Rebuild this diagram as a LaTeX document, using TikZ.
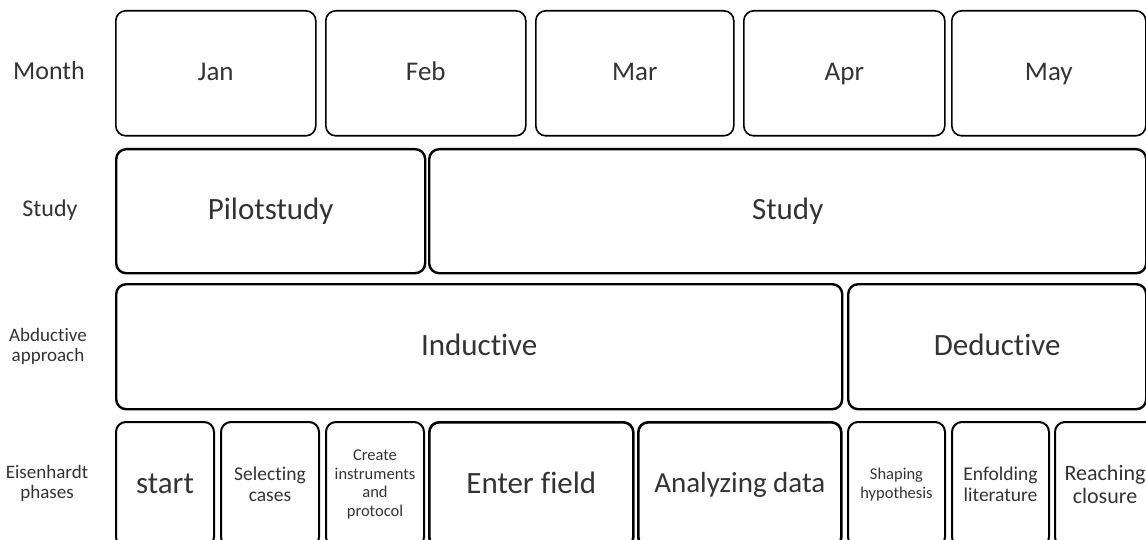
\documentclass[tikz,border=0pt]{standalone}
\usepackage{fontspec}
\setmainfont{Carlito}[Ligatures=NoCommon]
\newcommand\myfs[2]{\fontsize{#1}{#2}\selectfont}
\begin{document}
\begin{tikzpicture}[x=1pt,y=-1pt,
  box/.style={draw=black, line width=2pt, rounded corners=10pt, anchor=north west,
    inner sep=0pt, align=center, text=black!80},
  oneline/.style 2 args={text height=#1, text depth=#2},
  monthbox/.style={box, oneline={17.8pt}{2.7pt}, line width=1.6pt, minimum height=125pt, font=\myfs{27}{30}},
  studybox/.style={box, oneline={20.5pt}{3.1pt}, line width=2.4pt, minimum height=124pt, font=\myfs{31}{34}},
  approachbox/.style={box, oneline={20.5pt}{3.1pt}, line width=2.4pt, minimum height=125pt, font=\myfs{31}{34}},
  phasebox/.style={box, line width=2pt, minimum height=125pt},
  rowlabel/.style={align=center, inner sep=0pt, text=black!80},
]
\useasboundingbox (0,0) rectangle (1146,540);
\clip (0,0) rectangle (1146,540);

% row labels
\node[rowlabel, oneline={17.2pt}{2.6pt}, font=\myfs{26}{28}] (lmonth) at (49,72) {Month};
\node[rowlabel, oneline={15.8pt}{2.4pt}, font=\myfs{24}{26}] (lstudy) at (50,210) {Study};
\node[rowlabel, font=\myfs{19}{20}] (lapproach) at (48,346) {Abductive\\approach};
\node[rowlabel, font=\myfs{19}{20}] (lphase) at (47,483) {Eisenhardt\\phases};

% months
\node[monthbox, minimum width=200pt] (jan) at (115,10) {Jan};
\node[monthbox, minimum width=200pt] (feb) at (325,10) {Feb};
\node[monthbox, minimum width=198pt] (mar) at (535,10) {Mar};
\node[monthbox, minimum width=201pt] (apr) at (743,10) {Apr};
\node[monthbox, minimum width=194pt] (may) at (951,10) {May};

% study
\node[studybox, minimum width=309pt] (pilot) at (115,148) {Pilotstudy};
\node[studybox, minimum width=717pt] (study) at (428,148) {Study};

% approach
\node[approachbox, minimum width=726pt] (inductive) at (115,283) {Inductive};
\node[approachbox, minimum width=298pt] (deductive) at (847,283) {Deductive};

% phases
\node[phasebox, oneline={20.5pt}{3.1pt}, minimum width=98pt, font=\myfs{31}{34}] (start) at (115,421) {start};
\node[phasebox, minimum width=98pt, font=\myfs{19.5}{21}] (select) at (220,421) {Selecting\\cases};
\node[phasebox, minimum width=98pt, font=\myfs{16.5}{18.5}] (create) at (325,421) {Create\\instruments\\and\\protocol};
\node[phasebox, oneline={20.5pt}{3.1pt}, line width=2.6pt, minimum width=204pt, font=\myfs{31}{34}] (enter) at (428,421) {Enter field};
\node[phasebox, oneline={19.1pt}{2.9pt}, line width=2.6pt, minimum width=203pt, font=\myfs{29}{32}] (analyze) at (637,421) {Analyzing data};
\node[phasebox, minimum width=97pt, font=\myfs{16.5}{18.5}] (shape) at (847,421) {Shaping\\hypothesis};
\node[phasebox, minimum width=97pt, font=\myfs{19.5}{21.5}] (enfold) at (951,421) {Enfolding\\literature};
\node[phasebox, minimum width=100pt, font=\myfs{22}{23.5}] (closure) at (1054,421) {Reaching\\closure};
\end{tikzpicture}
\end{document}
